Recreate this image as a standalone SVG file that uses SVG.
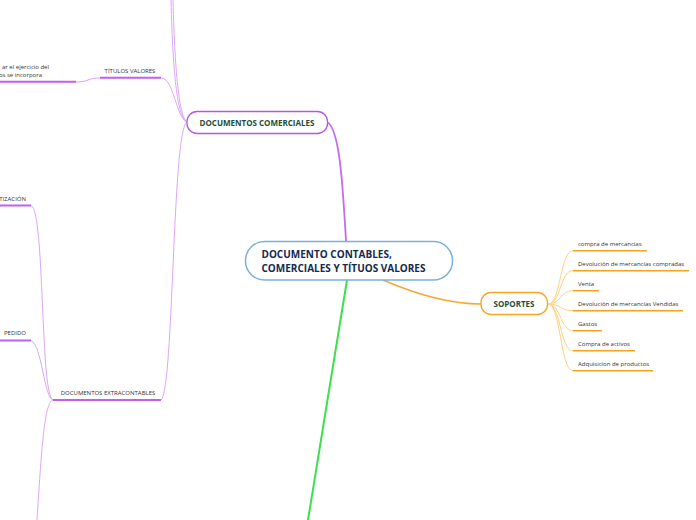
<svg xmlns="http://www.w3.org/2000/svg" width="696" height="520" viewBox="0 0 696 520">
<style>
.bg{fill:#ffffff}
.lbl{font-family:"Open Sans","Noto Sans","Liberation Sans",sans-serif;font-size:6px;fill:#333333}
.main{font-family:"Open Sans","Noto Sans","Liberation Sans",sans-serif;font-weight:bold;font-size:8px;fill:#1e4d3c}
.root{font-family:"Open Sans","Noto Sans","Liberation Sans",sans-serif;font-weight:bold;font-size:10px;fill:#13294f}
.pc{fill:none;stroke:#dba8f5;stroke-width:1}
.pu{fill:none;stroke:#c25ef0;stroke-width:2}
.oc{fill:none;stroke:#ffd080;stroke-width:1}
.ou{fill:none;stroke:#f5a31e;stroke-width:1.5}
</style>
<rect class="bg" x="0" y="0" width="696" height="520"/>
<g id="connectors">
  <path d="M346,241 C343,190 340,128 327,122" fill="none" stroke="#c46cee" stroke-width="1.8"/>
  <path d="M383,280 C420,296 452,304 481,304" fill="none" stroke="#f7a733" stroke-width="1.5"/>
  <path d="M347,280 L308,520" fill="none" stroke="#3ddf4c" stroke-width="2"/>
  <path class="pc" d="M187,122 C178,118 173,80 171,0"/>
  <path class="pc" d="M187,122 C180,118 175,80 173,0"/>
  <path class="pc" d="M187,122 C176,118 174,78 161,78"/>
  <path class="pc" d="M187,122 C172,130 174,390 161,400"/>
  <path class="pc" d="M100,78 C88,78 88,82 76,82"/>
  <path class="pc" d="M53,400 C40,396 45,210 31,205.5"/>
  <path class="pc" d="M53,400 C44,398 42,345 31,340.5"/>
  <path class="pc" d="M53,400 C45,402 42,440 37,520"/>
  <path class="oc" d="M548,304 C561,304 560,250.7 573,250.7"/>
  <path class="oc" d="M548,304 C561,304 560,270.7 573,270.7"/>
  <path class="oc" d="M548,304 C561,304 560,290.7 573,290.7"/>
  <path class="oc" d="M548,304 C561,304 560,310.7 573,310.7"/>
  <path class="oc" d="M548,304 C561,304 560,330.7 573,330.7"/>
  <path class="oc" d="M548,304 C561,304 560,350.7 573,350.7"/>
  <path class="oc" d="M548,304 C561,304 560,370.7 573,370.7"/>
</g>
<g id="root">
  <rect x="245.5" y="241.5" width="207" height="38.5" rx="19" fill="#ffffff" stroke="#7ab1de" stroke-width="1.5"/>
  <text class="root" x="261.5" y="257.5">DOCUMENTO CONTABLES,</text>
  <text class="root" x="261.5" y="271.5">COMERCIALES Y TÍTUOS VALORES</text>
</g>
<g id="documentos-comerciales">
  <rect x="187" y="111.5" width="140.5" height="22" rx="10" fill="#ffffff" stroke="#b757e0" stroke-width="1.3"/>
  <text class="main" x="257" y="125.5" text-anchor="middle">DOCUMENTOS COMERCIALES</text>
</g>
<g id="soportes">
  <rect x="481" y="292.5" width="66.5" height="22" rx="10" fill="#ffffff" stroke="#f5a623" stroke-width="1.3"/>
  <text class="main" x="514" y="306.5" text-anchor="middle">SOPORTES</text>
</g>
<g id="titulos-valores">
  <line class="pu" x1="100" y1="77.7" x2="161" y2="77.7"/>
  <text class="lbl" x="130" y="73" text-anchor="middle">TÍTULOS VALORES</text>
</g>
<g id="titulos-detalle">
  <line class="pu" x1="-2" y1="81.7" x2="76" y2="81.7"/>
  <text class="lbl" x="49" y="69" text-anchor="end">ar el ejercicio del</text>
  <text class="lbl" x="42" y="77" text-anchor="end">os se incorpora</text>
</g>
<g id="documentos-extracontables">
  <line class="pu" x1="53" y1="400" x2="161" y2="400"/>
  <text class="lbl" x="108" y="395" text-anchor="middle">DOCUMENTOS EXTRACONTABLES</text>
</g>
<g id="cotizacion">
  <line class="pu" x1="-2" y1="205.5" x2="31" y2="205.5"/>
  <text class="lbl" x="26" y="200.5" text-anchor="end">TIZACIÓN</text>
</g>
<g id="pedido">
  <line class="pu" x1="-2" y1="340.5" x2="31" y2="340.5"/>
  <text class="lbl" x="15" y="335" text-anchor="middle">PEDIDO</text>
</g>
<g id="s1"><line class="ou" x1="573" y1="250.7" x2="647" y2="250.7"/><text class="lbl" x="578" y="246">compra de mercancías</text></g>
<g id="s2"><line class="ou" x1="573" y1="270.7" x2="689" y2="270.7"/><text class="lbl" x="578" y="266">Devolución de mercancías compradas</text></g>
<g id="s3"><line class="ou" x1="573" y1="290.7" x2="599" y2="290.7"/><text class="lbl" x="578" y="286">Venta</text></g>
<g id="s4"><line class="ou" x1="573" y1="310.7" x2="683" y2="310.7"/><text class="lbl" x="578" y="306">Devolución de mercancías Vendidas</text></g>
<g id="s5"><line class="ou" x1="573" y1="330.7" x2="602" y2="330.7"/><text class="lbl" x="578" y="326">Gastos</text></g>
<g id="s6"><line class="ou" x1="573" y1="350.7" x2="635" y2="350.7"/><text class="lbl" x="578" y="346">Compra de activos</text></g>
<g id="s7"><line class="ou" x1="573" y1="370.7" x2="653" y2="370.7"/><text class="lbl" x="578" y="366">Adquisicion de productos</text></g>
</svg>
